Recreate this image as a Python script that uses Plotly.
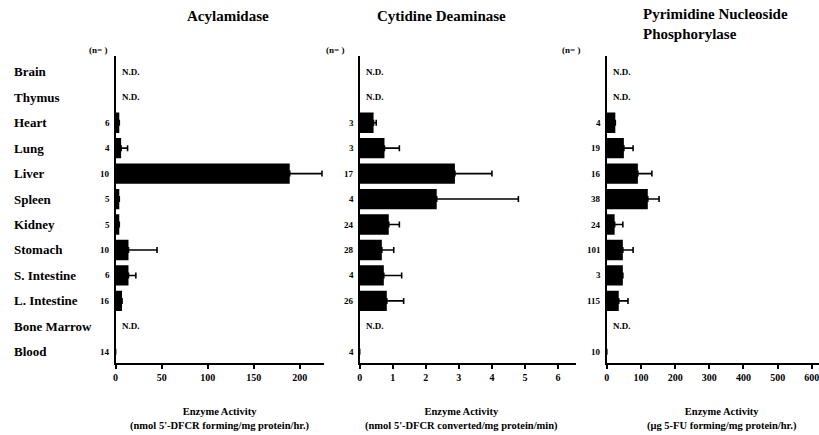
import plotly.graph_objects as go

organs = ["Brain", "Thymus", "Heart", "Lung", "Liver", "Spleen", "Kidney",
          "Stomach", "S. Intestine", "L. Intestine", "Bone Marrow", "Blood"]

# Acylamidase (nmol 5'-DFCR forming/mg protein/hr.)
acyl_mean = [None, None, 4, 6, 189, 4, 4, 14, 14, 7, None, 0]
acyl_sd = [0, 0, 0, 7, 35, 0, 0, 31, 8, 0, 0, 0]
acyl_n = ["", "", "6", "4", "10", "5", "5", "10", "6", "16", "", "14"]
acyl_nd = [True, True, False, False, False, False, False, False, False, False, True, False]

# Cytidine Deaminase (nmol 5'-DFCR converted/mg protein/min)
cyt_mean = [None, None, 0.42, 0.75, 2.88, 2.33, 0.88, 0.67, 0.73, 0.82, None, 0]
cyt_sd = [0, 0, 0.08, 0.45, 1.12, 2.47, 0.32, 0.36, 0.54, 0.51, 0, 0]
cyt_n = ["", "", "3", "3", "17", "4", "24", "28", "4", "26", "", "4"]
cyt_nd = [True, True, False, False, False, False, False, False, False, False, True, False]

# Pyrimidine Nucleoside Phosphorylase (ug 5-FU forming/mg protein/hr.)
pyr_mean = [None, None, 25, 50, 91, 120, 23, 47, 47, 35, None, 0]
pyr_sd = [0, 0, 0, 27, 41, 33, 24, 30, 0, 27, 0, 0]
pyr_n = ["", "", "4", "19", "16", "38", "24", "101", "3", "115", "", "10"]
pyr_nd = [True, True, False, False, False, False, False, False, False, False, True, False]

titles = ["Acylamidase", "Cytidine Deaminase", "Pyrimidine Nucleoside<br>Phosphorylase"]
xtitles = ["Enzyme Activity<br>(nmol 5'-DFCR forming/mg protein/hr.)",
           "Enzyme Activity<br>(nmol 5'-DFCR converted/mg protein/min)",
           "Enzyme Activity<br>(\u03bcg 5-FU forming/mg protein/hr.)"]
xticks = [[0, 50, 100, 150, 200], [0, 1, 2, 3, 4, 5, 6], [0, 100, 200, 300, 400, 500, 600]]

W, H = 819, 435
FONT = "Liberation Serif"

panels = [
    dict(mean=acyl_mean, sd=acyl_sd, n=acyl_n, nd=acyl_nd, x0=113, x1=322, rng=[0, 226]),
    dict(mean=cyt_mean, sd=cyt_sd, n=cyt_n, nd=cyt_nd, x0=358, x1=575, rng=[0, 6.54]),
    dict(mean=pyr_mean, sd=pyr_sd, n=pyr_n, nd=pyr_nd, x0=606, x1=819, rng=[0, 621]),
]

ytop, ybot = 56, 363
ydom = [1 - ybot / H, 1 - ytop / H]

fig = go.Figure()
annotations = []
layout = {}
for i, p in enumerate(panels):
    sfx = "" if i == 0 else str(i + 1)
    xa, ya = "x" + sfx, "y" + sfx
    fig.add_trace(go.Bar(
        x=p["mean"], y=organs, orientation="h",
        marker=dict(color="black", line=dict(width=0)),
        error_x=dict(type="data", array=p["sd"], arrayminus=[0] * len(organs),
                     symmetric=False, color="black", thickness=1.6, width=3),
        xaxis=xa, yaxis=ya, showlegend=False,
    ))
    layout["xaxis" + sfx] = dict(
        domain=[p["x0"] / W, min(p["x1"] / W, 1)], range=p["rng"], anchor=ya,
        showline=True, linecolor="black", linewidth=2, showgrid=False, zeroline=False,
        ticks="outside", ticklen=4, tickwidth=1.5, tickcolor="black",
        tickvals=xticks[i], ticktext=[str(t) for t in xticks[i]],
        ticklabeloverflow="allow",
        tickfont=dict(family=FONT, size=10, color="black", weight="bold"),
        fixedrange=True,
    )
    layout["yaxis" + sfx] = dict(
        domain=ydom, anchor=xa, type="category", categoryarray=organs,
        range=[11.44, -0.62], showline=True, linecolor="black", linewidth=2,
        showgrid=False, zeroline=False, showticklabels=False, ticks="",
    )
    for j, org in enumerate(organs):
        if p["n"][j]:
            annotations.append(dict(x=0, y=org, xref=xa, yref=ya, text=p["n"][j],
                                    xanchor="right", xshift=-4, showarrow=False,
                                    font=dict(family=FONT, size=9, color="black", weight="bold")))
        if p["nd"][j]:
            annotations.append(dict(x=0, y=org, xref=xa, yref=ya, text="N.D.",
                                    xanchor="left", xshift=4, showarrow=False,
                                    font=dict(family=FONT, size=9, color="black", weight="bold")))
    # x axis title
    cx = [218, 460, 722][i]
    annotations.append(dict(x=cx / W, y=1 - 419 / H, xref="paper", yref="paper",
                            text=xtitles[i], showarrow=False, xanchor="center", yanchor="middle",
                            font=dict(family=FONT, size=10.5, color="black", weight="bold")))
    # (n= ) header
    nx = [95, 333, 570][i]
    annotations.append(dict(x=nx / W, y=1 - 50 / H, xref="paper", yref="paper",
                            text="(n= )", showarrow=False, xanchor="center", yanchor="middle",
                            font=dict(family=FONT, size=9, color="black", weight="bold")))

# panel titles
annotations.append(dict(x=226 / W, y=1 - 16 / H, xref="paper", yref="paper", text=titles[0],
                        showarrow=False, xanchor="center", yanchor="middle",
                        font=dict(family=FONT, size=15, color="black", weight="bold")))
annotations.append(dict(x=440 / W, y=1 - 16 / H, xref="paper", yref="paper", text=titles[1],
                        showarrow=False, xanchor="center", yanchor="middle",
                        font=dict(family=FONT, size=15, color="black", weight="bold")))
annotations.append(dict(x=640 / W, y=1 - 24 / H, xref="paper", yref="paper", text=titles[2],
                        showarrow=False, xanchor="left", yanchor="middle", align="left",
                        font=dict(family=FONT, size=15, color="black", weight="bold")))

# organ labels
for org in organs:
    annotations.append(dict(x=9 / W, y=org, xref="paper", yref="y", text=org,
                            showarrow=False, xanchor="left", yanchor="middle",
                            font=dict(family=FONT, size=13, color="black", weight="bold")))

fig.update_layout(
    width=W, height=H, margin=dict(l=0, r=0, t=0, b=0),
    paper_bgcolor="white", plot_bgcolor="white",
    bargap=0.2, annotations=annotations, **layout,
)
fig.write_html("out.html")
